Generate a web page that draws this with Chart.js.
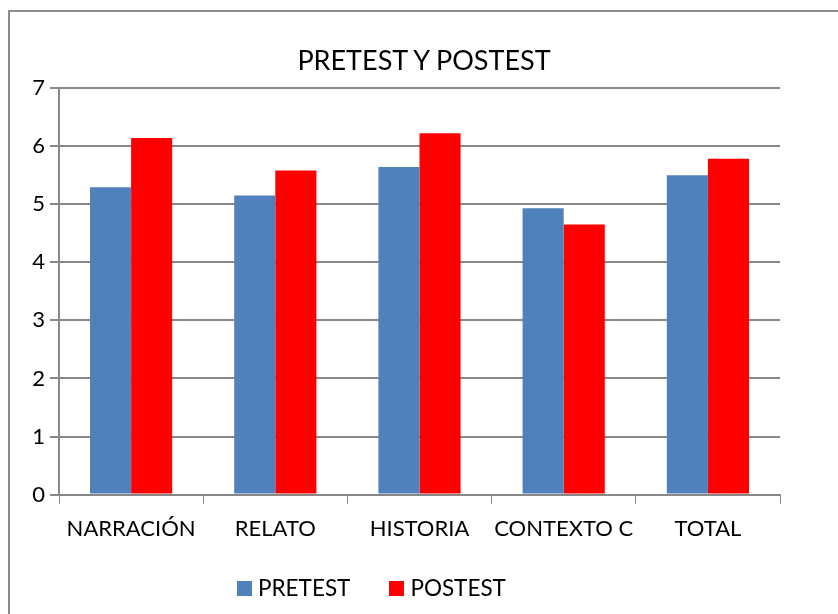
<!DOCTYPE html>
<html>
<head>
<meta charset="utf-8">
<script src="https://cdn.jsdelivr.net/npm/chart.js@4.4.0/dist/chart.umd.min.js"></script>
<style>
  html, body { margin: 0; padding: 0; background: #fff; }
  #wrap { position: relative; width: 838px; height: 614px; overflow: hidden; font-family: Lato, "Open Sans", sans-serif; color: #000; }
  #frame { position: absolute; left: 8px; top: 10px; width: 900px; height: 700px;
           border-left: 2px solid #8c8c8c; border-top: 2px solid #8c8c8c; }
  canvas { position: absolute; left: 0; top: 0; }
  #titulo { position: absolute; left: 0; width: 848px; top: 42px; text-align: center; font-size: 27px; line-height: 36px; }
  #leyenda { position: absolute; left: 237px; top: 574px; display: flex; align-items: center; font-size: 22.5px; line-height: 28px; }
  #leyenda .caja { width: 15px; height: 15px; margin-right: 6px; }
  #leyenda .item { display: flex; align-items: center; margin-right: 39px; }
</style>
</head>
<body>
<div id="wrap">
  <div id="frame"></div>
  <canvas id="chart" width="838" height="614"></canvas>
  <div id="titulo">PRETEST Y POSTEST</div>
  <div id="leyenda"></div>
</div>
<script>
// datos
const categorias = ['NARRACIÓN', 'RELATO', 'HISTORIA', 'CONTEXTO C', 'TOTAL'];
const pretest = [5.29, 5.15, 5.64, 4.93, 5.50];
const postest = [6.14, 5.58, 6.22, 4.65, 5.78];

const fuente = 'Lato, "Open Sans", sans-serif';

const chart = new Chart(document.getElementById('chart'), {
    type: 'bar',
    data: {
        labels: categorias,
        datasets: [
            { label: 'PRETEST', data: pretest, backgroundColor: '#4f81bd' },
            { label: 'POSTEST', data: postest, backgroundColor: '#ff0000' }
        ]
    },
    options: {
        responsive: false,
        animation: false,
        layout: { padding: { left: 8, right: 58, top: 88, bottom: 60 } },
        datasets: {
            bar: { categoryPercentage: 0.57, barPercentage: 1.0 }
        },
        plugins: {
            title: { display: false },
            legend: { display: false },
            tooltip: { enabled: false }
        },
        scales: {
            x: {
                grid: { display: true, drawOnChartArea: false, color: '#888', tickLength: 9, offset: true },
                border: { color: '#888', width: 2 },
                ticks: { color: '#000', font: { family: fuente, size: 22 }, padding: 12, maxRotation: 0, autoSkip: false }
            },
            y: {
                min: 0,
                max: 7,
                afterFit: (scale) => { scale.width = 51; },
                grid: { color: '#888', lineWidth: 2, tickLength: 9 },
                border: { color: '#888', width: 2 },
                ticks: { stepSize: 1, color: '#000', font: { family: fuente, size: 22 }, padding: 5 }
            }
        }
    }
});

// leyenda en HTML a partir de los datasets
const leyenda = document.getElementById('leyenda');
chart.data.datasets.forEach(ds => {
    const item = document.createElement('div');
    item.className = 'item';
    const caja = document.createElement('span');
    caja.className = 'caja';
    caja.style.background = ds.backgroundColor;
    item.appendChild(caja);
    item.appendChild(document.createTextNode(ds.label));
    leyenda.appendChild(item);
});
</script>
</body>
</html>
